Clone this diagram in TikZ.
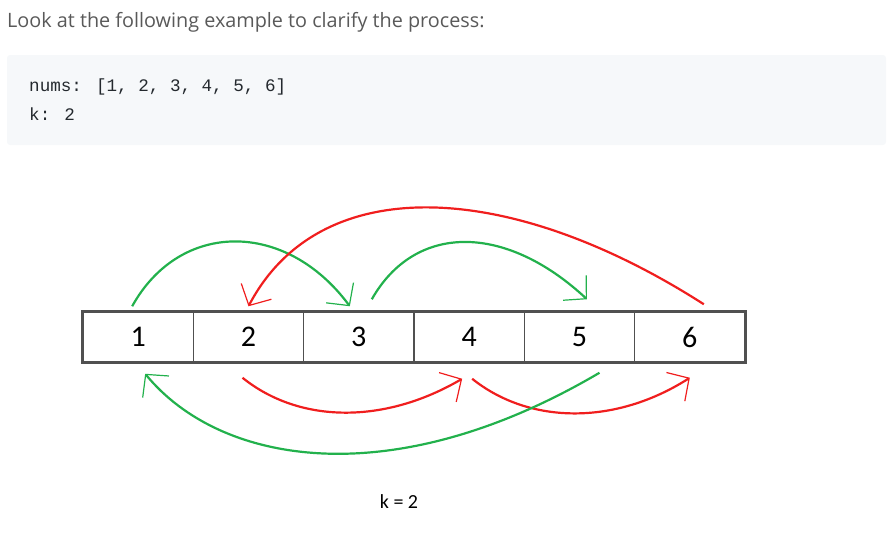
\documentclass[tikz,border=0pt]{standalone}
\usepackage{fontspec}
\usetikzlibrary{arrows.meta}
\newfontfamily\titlefont{Open Sans}
\newfontfamily\codefont{Liberation Mono}
\newfontfamily\cellfont{Carlito}
\definecolor{titlegray}{HTML}{595959}
\definecolor{codebg}{HTML}{F6F8FA}
\definecolor{codeink}{HTML}{24292E}
\definecolor{boxgray}{HTML}{505050}
\definecolor{arcgreen}{HTML}{22B14C}
\definecolor{arcred}{HTML}{F01E1E}
\begin{document}
\begin{tikzpicture}[
    x=1pt, y=-1pt,
    cell/.style={draw=boxgray, line width=1.5pt, minimum width=110.33pt,
      minimum height=50pt, inner sep=0pt, font=\cellfont\fontsize{30}{30}\selectfont},
    arc/.style={line width=2.2pt,
      -{Straight Barb[length=16pt,width=34pt,line width=1.2pt]}},
    greenarc/.style={arc, arcgreen},
    redarc/.style={arc, arcred}
  ]
  \useasboundingbox (0,0) rectangle (893,536);
  \node [anchor=base west, inner sep=0pt, text=titlegray,
    font=\titlefont\fontsize{19.8}{19.8}\selectfont]
    (title) at (7,27) {Look at the following example to clarify the process:};
  \fill [codebg, rounded corners=3pt] (7,55) rectangle (886,145);
  \node [anchor=base west, inner sep=0pt, text=codeink,
    font=\codefont\fontsize{17.6}{17.6}\selectfont]
    (nums) at (29,91) {nums: [1, 2, 3, 4, 5, 6]};
  \node [anchor=base west, inner sep=0pt, text=codeink,
    font=\codefont\fontsize{17.6}{17.6}\selectfont]
    (k) at (29,120) {k: 2};
  \foreach \v [count=\i] in {1,...,6}{
    \node [cell] (c\i) at ({27.83+110.33*\i},337) {\v};
  }
  \draw [boxgray, line width=2.5pt] (c1.north west) rectangle (c6.south east);
  % above the cells
  \draw [greenarc]
    ([shift={(-6,-5)}]c1.north)
    .. controls (180,220) and (286,220) ..
    ([shift={(-9,-5)}]c3.north);
  \draw [greenarc]
    ([shift={(13,-12)}]c3.north)
    .. controls (415,223) and (505,223) ..
    ([shift={(7.5,-12)}]c5.north);
  \draw [redarc]
    ([shift={(14,-7)}]c6.north)
    .. controls (510,180) and (320,170) ..
    ([shift={(0,-5)}]c2.north);
  % below the cells
  \draw [redarc]
    ([shift={(-6,15)}]c2.south)
    .. controls (300,424) and (385,424) ..
    ([shift={(-7,16)}]c4.south);
  \draw [redarc]
    ([shift={(3,16)}]c4.south)
    .. controls (530,425) and (616,425) ..
    ([shift={(0,15)}]c6.south);
  \draw [greenarc]
    ([shift={(20,10)}]c5.south)
    .. controls (392,495) and (220,465) ..
    ([shift={(7,11)}]c1.south);
  \node [font=\cellfont\fontsize{20}{20}\selectfont, anchor=base]
    (klabel) at (399,508) {k = 2};
\end{tikzpicture}
\end{document}
